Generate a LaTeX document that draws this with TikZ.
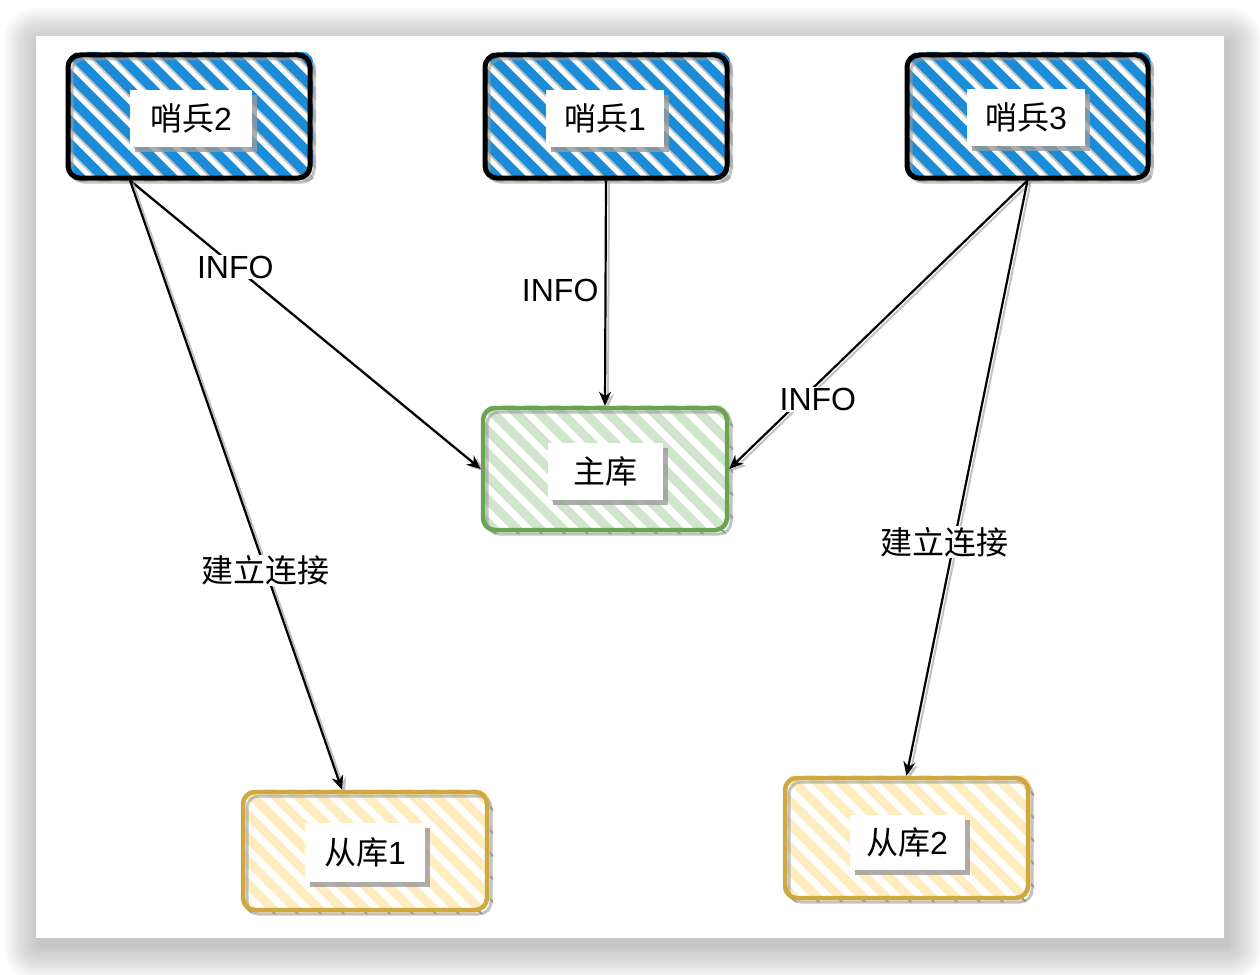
\documentclass[tikz,border=0pt]{standalone}
\usepackage{fontspec}
\setmainfont{Liberation Sans}
\newfontfamily\cjk{Noto Sans CJK SC}
\usetikzlibrary{arrows.meta,shadows}
\definecolor{hblue}{HTML}{1A8CD8}
\definecolor{hgreen}{HTML}{CFE5CC}
\definecolor{bgreen}{HTML}{6AA352}
\definecolor{hyellow}{HTML}{FFEDBF}
\definecolor{byellow}{HTML}{D0A840}
\definecolor{shad}{HTML}{9A9A9A}
% x1,y1,x2,y2, stripe style, shadow style
\newcommand{\hatchbox}[6]{%
  \begin{scope}
    \clip[rounded corners=10pt] ({#1+2},{#2+2}) rectangle ({#3+6},{#4+4});
    \foreach \k in {-7,...,12}{\draw[#6] ({#1+\k*23},{#2-2}) -- ++(140,140);}
  \end{scope}
  \begin{scope}
    \clip[rounded corners=10pt] ({#1+1},{#2-3}) rectangle ({#3+3},{#4-1});
    \foreach \k in {-7,...,12}{\draw[#5] ({#1+\k*23},{#2-5}) -- ++(140,140);}
  \end{scope}
}
\tikzset{
  bigfont/.style={font=\fontsize{32}{38}\selectfont},
  box/.style={draw, line width=4.5pt, rounded corners=12pt, inner sep=0pt,
    preaction={draw=shad, opacity=.6, line width=3pt, transform canvas={xshift=4pt,yshift=-4pt}}},
  bluebox/.style={box, draw=black, line width=5pt},
  greenbox/.style={box, draw=bgreen},
  yellowbox/.style={box, draw=byellow},
  lab/.style={bigfont, fill=white, inner sep=0pt,
    drop shadow={shadow xshift=5pt, shadow yshift=-5pt, fill=shad, opacity=.8}},
  bstripe/.style={hblue, line width=9.5pt, line cap=round},
  bshadow/.style={shad, opacity=.55, line width=9pt, line cap=round},
  gstripe/.style={hgreen, line width=9pt, line cap=round},
  ystripe/.style={hyellow, line width=9pt, line cap=round},
  lshadow/.style={shad, line width=2pt, line cap=round},
  conn/.style={draw, line width=2.2pt, -{Stealth[open, length=14pt, width=12pt]},
    preaction={draw=shad, opacity=.6, line width=2pt, transform canvas={xshift=3pt,yshift=-2pt}}},
  elab/.style={bigfont, fill=white, inner sep=1pt},
}
\begin{document}
\begin{tikzpicture}[x=1pt, y=-1pt]
\useasboundingbox (0,0) rectangle (1260,974);
% outer shadow and card
\foreach \i in {1,...,16}{
  \fill[black, opacity=0.015, rounded corners={\i*2pt}]
    ({36-\i*2.2+3},{36-\i*2.2+7}) rectangle ({1224+\i*2.2+3},{938+\i*2.2+7});
}
\fill[white] (36,36) rectangle (1224,938);

% hatching
\hatchbox{68}{55}{310}{178}{bstripe}{bshadow}
\hatchbox{485}{55}{727}{178}{bstripe}{bshadow}
\hatchbox{907}{55}{1148}{178}{bstripe}{bshadow}
\hatchbox{483}{408}{727}{530}{gstripe}{lshadow}
\hatchbox{243}{792}{487}{910}{ystripe}{lshadow}
\hatchbox{785}{778}{1028}{898}{ystripe}{lshadow}

% boxes
\node[bluebox, minimum width=242pt, minimum height=123pt] (s2) at (189,116.5) {};
\node[bluebox, minimum width=242pt, minimum height=123pt] (s1) at (606,116.5) {};
\node[bluebox, minimum width=241pt, minimum height=123pt] (s3) at (1027.5,116.5) {};
\node[greenbox, minimum width=244pt, minimum height=122pt] (m) at (605,469) {};
\node[yellowbox, minimum width=244pt, minimum height=118pt] (r1) at (365,851) {};
\node[yellowbox, minimum width=243pt, minimum height=120pt] (r2) at (906.5,838) {};

% labels
\node[lab, minimum width=122pt, minimum height=57pt] (s2l) at (191,118.5) {{\cjk 哨兵}2};
\node[lab, minimum width=118pt, minimum height=57pt] (s1l) at (605,118.5) {{\cjk 哨兵}1};
\node[lab, minimum width=118pt, minimum height=57pt] (s3l) at (1026,117.5) {{\cjk 哨兵}3};
\node[lab, minimum width=115pt, minimum height=57pt] (ml) at (605,471.5) {\cjk 主库};
\node[lab, minimum width=120pt, minimum height=59pt] (r1l) at (365,852.5) {{\cjk 从库}1};
\node[lab, minimum width=115pt, minimum height=55pt] (r2l) at (907,842.5) {{\cjk 从库}2};

% connectors
\draw[conn] ([xshift=-59pt]s2.south) -- (m.west) node[elab, pos=.30] {INFO};
\draw[conn] ([xshift=-59pt]s2.south) -- ([xshift=-23pt]r1.north) node[elab, pos=.64] {\cjk 建立连接};
\draw[conn] (s1.south) -- (m.north) node[elab, pos=.49, anchor=east, xshift=-5pt] {INFO};
\draw[conn] (s3.south) -- (m.east) node[elab, pos=.76, xshift=17pt] {INFO};
\draw[conn] (s3.south) -- (r2.north) node[elab, pos=.607, xshift=-10pt] {\cjk 建立连接};
\end{tikzpicture}
\end{document}
